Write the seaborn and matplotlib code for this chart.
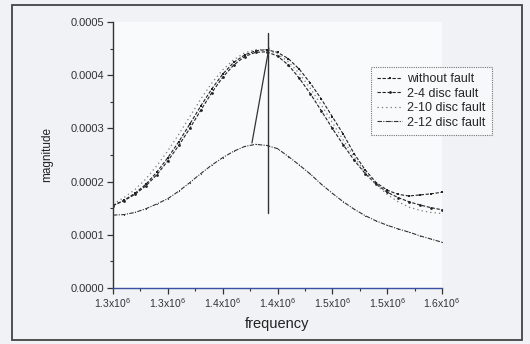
import numpy as np
import pandas as pd
import matplotlib
matplotlib.use("Agg")
import matplotlib.pyplot as plt
from matplotlib.patches import Rectangle
import seaborn as sns

# frequency grid (x10^6) and magnitudes
frecuencia = [1.30, 1.31, 1.32, 1.33, 1.34, 1.35, 1.36, 1.37, 1.38, 1.39, 1.40,
              1.41, 1.42, 1.43, 1.44, 1.45, 1.46, 1.47, 1.48, 1.49, 1.50,
              1.51, 1.52, 1.53, 1.54, 1.55, 1.56, 1.57, 1.58, 1.59, 1.60]

sin_falla = [0.000155, 0.000165, 0.000178, 0.000195, 0.000218, 0.000245, 0.000275,
             0.000308, 0.000342, 0.000374, 0.000402, 0.000424, 0.000438, 0.000446,
             0.000448, 0.000443, 0.000431, 0.000411, 0.000385, 0.000355, 0.000322,
             0.000289, 0.000252, 0.000222, 0.000198, 0.000184, 0.000176, 0.000173,
             0.000175, 0.000177, 0.000180]

falla_2_4 = [0.000155, 0.000164, 0.000176, 0.000192, 0.000213, 0.000239, 0.000268,
             0.000300, 0.000334, 0.000367, 0.000396, 0.000419, 0.000435, 0.000443,
             0.000444, 0.000436, 0.000419, 0.000394, 0.000365, 0.000333, 0.000300,
             0.000269, 0.000240, 0.000215, 0.000195, 0.000180, 0.000170, 0.000162,
             0.000156, 0.000151, 0.000147]

falla_2_10 = [0.000158, 0.000170, 0.000185, 0.000205, 0.000230, 0.000258, 0.000289,
              0.000322, 0.000355, 0.000385, 0.000410, 0.000429, 0.000442, 0.000448,
              0.000448, 0.000440, 0.000425, 0.000403, 0.000375, 0.000344, 0.000311,
              0.000278, 0.000246, 0.000218, 0.000194, 0.000176, 0.000162, 0.000152,
              0.000146, 0.000142, 0.000140]

falla_2_12 = [0.000137, 0.000138, 0.000142, 0.000149, 0.000158, 0.000168, 0.000182,
              0.000198, 0.000215, 0.000231, 0.000245, 0.000257, 0.000266, 0.000270,
              0.000268, 0.000262, 0.000247, 0.000231, 0.000214, 0.000195, 0.000178,
              0.000162, 0.000148, 0.000136, 0.000126, 0.000118, 0.000111, 0.000105,
              0.000098, 0.000092, 0.000086]

nombres = ["without fault", "2-4 disc fault", "2-10 disc fault", "2-12 disc fault"]

# annotation lines drawn on the original
linea_vertical_x = 1.441e6
linea_vertical_y = [0.000141, 0.000479]
linea_diagonal_x = [1.4267e6, 1.4422e6]
linea_diagonal_y = [0.0002726, 0.000451]

x_ticks = [1.30e6, 1.35e6, 1.40e6, 1.45e6, 1.50e6, 1.55e6, 1.60e6]
x_etiquetas = ["1.3", "1.3", "1.4", "1.4", "1.5", "1.5", "1.6"]
y_ticks = [0.0, 0.0001, 0.0002, 0.0003, 0.0004, 0.0005]

df = pd.DataFrame({
    "frequency": np.array(frecuencia) * 1e6,
    nombres[0]: sin_falla,
    nombres[1]: falla_2_4,
    nombres[2]: falla_2_10,
    nombres[3]: falla_2_12,
})

sns.set_style("ticks")
plt.rcParams["font.family"] = ["Liberation Sans", "DejaVu Sans"]
plt.rcParams["mathtext.fontset"] = "custom"
plt.rcParams["mathtext.rm"] = "Liberation Sans"
plt.rcParams["mathtext.it"] = "Liberation Sans"

fig = plt.figure(figsize=(5.3, 3.44), dpi=100, facecolor="#f1f2f5")
ax = fig.add_axes([113 / 530, 1 - 288 / 344, 329 / 530, 266 / 344])
ax.set_facecolor("#f9fafb")

# marco exterior gris
fig.patches.append(Rectangle((12 / 530, 1 - 340 / 344), 510 / 530, 335 / 344,
                             transform=fig.transFigure, fill=False,
                             edgecolor="#444444", linewidth=1.3))

estilos = [
    dict(linestyle=(0, (3, 1.5)), marker="s", markersize=2.0, color="#222222", linewidth=0.8),
    dict(linestyle=(0, (3, 1.5)), marker="o", markersize=2.0, color="#222222", linewidth=0.8),
    dict(linestyle=(0, (1, 2.5)), marker=None, color="#7a7a7a", linewidth=0.9),
    dict(linestyle=(0, (4, 1.2, 1, 1.2)), marker=".", markersize=1.6, color="#333333", linewidth=0.8),
]

for nombre, est in zip(nombres, estilos):
    sns.lineplot(data=df, x="frequency", y=nombre, ax=ax, label=nombre,
                 markeredgewidth=0, **est)

ax.plot([linea_vertical_x, linea_vertical_x], linea_vertical_y, color="#333333", linewidth=1.0)
ax.plot(linea_diagonal_x, linea_diagonal_y, color="#333333", linewidth=0.9)

ax.set_xlim(1.3e6, 1.6e6)
ax.set_ylim(0, 0.0005)
ax.set_xticks(x_ticks)
ax.set_xticklabels([r"$\mathrm{%sx10^{6}}$" % e for e in x_etiquetas], fontsize=7.5)
ax.set_xticks(np.arange(1.325e6, 1.6e6, 0.05e6), minor=True)
ax.set_yticks(y_ticks)
ax.set_yticklabels(["%.4f" % v for v in y_ticks], fontsize=8)
ax.set_yticks(np.arange(0.00005, 0.0005, 0.0001), minor=True)
ax.tick_params(which="major", length=4, width=0.9, colors="#333333", pad=2)
ax.tick_params(which="minor", length=2, width=0.8, colors="#333333")

for lado in ["top", "right"]:
    ax.spines[lado].set_visible(False)
ax.spines["left"].set_color("#333333")
ax.spines["bottom"].set_color("#3a4f9f")
ax.spines["left"].set_linewidth(1.0)
ax.spines["bottom"].set_linewidth(1.0)

ax.set_xlabel("frequency", fontsize=10.5, color="#222222", labelpad=5)
ax.set_ylabel("magnitude", fontsize=8.5, color="#222222", labelpad=13)

leg = ax.legend(loc="upper left", bbox_to_anchor=(0.784, 0.831), fontsize=9,
                frameon=True, fancybox=False, handlelength=2.0, handletextpad=0.4,
                labelspacing=0.2, borderpad=0.5, borderaxespad=0)
leg.get_frame().set_edgecolor("#555555")
leg.get_frame().set_linestyle((0, (1, 1)))
leg.get_frame().set_linewidth(0.8)
leg.get_frame().set_facecolor("#f9fafb")
leg.set_clip_on(False)

fig.savefig("out.png", dpi=100, facecolor=fig.get_facecolor())
